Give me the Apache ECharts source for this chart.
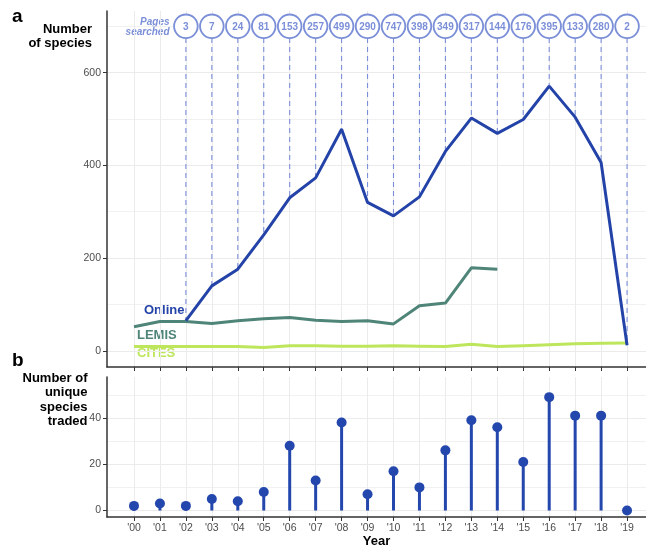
<!DOCTYPE html>
<html>
<head>
<meta charset="utf-8">
<script src="https://cdn.jsdelivr.net/npm/echarts@6/dist/echarts.min.js"></script>
<style>
html,body{margin:0;padding:0;background:#fff;}
#chart{width:646px;height:549px;}
</style>
</head>
<body>
<div id="chart"></div>
<script>
// ---- data ----
const years = [2000,2001,2002,2003,2004,2005,2006,2007,2008,2009,2010,2011,2012,2013,2014,2015,2016,2017,2018,2019];
const tickLabels = ["'00","'01","'02","'03","'04","'05","'06","'07","'08","'09","'10","'11","'12","'13","'14","'15","'16","'17","'18","'19"];
const online = [null,null,65,140,176,250,330,373,478,320,291,332,430,502,469,499,571,504,406,12];
const lemis  = [52,63,63,59,65,69,72,66,63,65,58,97,103,179,176,null,null,null,null,null];
const cites  = [9,9,9,9,9,7,11,11,10,10,11,10,9,14,9,11,13,15,16,17];
const pagesSearched = [null,null,3,7,24,81,153,257,499,290,747,398,349,317,144,176,395,133,280,2];
const uniqueTraded = [2,3,2,5,4,8,28,13,38,7,17,10,26,39,36,21,49,41,41,0];
const topMajorTicks = [0,200,400,600];
const topMinorTicks = [100,300,500,700];
const botMajorTicks = [0,20,40];
const botMinorTicks = [10,30,50];

// ---- styling ----
const FONT = "'Liberation Sans', Arial, sans-serif";
const C_ONLINE = '#2443a8';
const C_LEMIS = '#4f8578';
const C_CITES = '#bde65c';
const C_PAGES = '#7b8fd8';
const C_LOLLI = '#2447ad';
const GRID_C = '#ebebeb';
const AX_C = '#333333';
const CIRCLE_Y = 700;
const xMin = 1998.96, xMax = 2019.73;

function pairs(arr){ const out=[]; arr.forEach((v,i)=>{ if(v!==null) out.push([years[i], v]); }); return out; }
const pagesData = [];
pagesSearched.forEach((p,i)=>{ if(p!==null) pagesData.push([years[i], online[i], p]); });

function xAxisCfg(grid, showLabels){
  return {
    type:'value', gridIndex:grid, min:xMin, max:xMax,
    axisLine:{show:true, onZero:false, lineStyle:{color:AX_C, width:1.5}},
    axisTick:{show:true, length:4, customValues:years, lineStyle:{color:AX_C, width:1}},
    axisLabel:{show:showLabels, customValues:years, margin:6, color:'#4d4d4d', fontSize:10.5, fontFamily:FONT,
      formatter:v=>tickLabels[years.indexOf(Math.round(v))]},
    splitLine:{show:true, lineStyle:{color:GRID_C, width:1}},
    name: showLabels ? 'Year' : '', nameLocation:'middle', nameGap:18,
    nameTextStyle:{fontWeight:'bold', fontSize:13, color:'#000', fontFamily:FONT}
  };
}
function yMajor(grid, min, max, ticks){
  return {
    type:'value', gridIndex:grid, min:min, max:max, position:'left',
    axisLine:{show:true, onZero:false, lineStyle:{color:AX_C, width:1.5}},
    axisTick:{show:true, length:4, customValues:ticks, lineStyle:{color:AX_C, width:1}},
    axisLabel:{show:true, customValues:ticks, margin:6, color:'#4d4d4d', fontSize:10.5, fontFamily:FONT},
    splitLine:{show:true, lineStyle:{color:GRID_C, width:1}}
  };
}
function yMinor(grid, min, max, ticks){
  return {
    type:'value', gridIndex:grid, min:min, max:max, position:'right',
    axisLine:{show:false}, axisLabel:{show:false},
    axisTick:{show:false, customValues:ticks},
    splitLine:{show:true, lineStyle:{color:GRID_C, width:0.7}}
  };
}

const chart = echarts.init(document.getElementById('chart'), null, {renderer:'canvas'});
chart.setOption({
  animation:false,
  backgroundColor:'#fff',
  grid:[
    {left:107, right:0, top:11, height:356},
    {left:107, right:0, top:377, height:145}
  ],
  xAxis:[ xAxisCfg(0,false), xAxisCfg(1,true) ],
  yAxis:[
    yMajor(0,-35,733,topMajorTicks),
    yMinor(0,-35,733,topMinorTicks),
    yMajor(1,-2.8,57.7,botMajorTicks),
    yMinor(1,-2.8,57.7,botMinorTicks)
  ],
  series:[
    {
      type:'custom', xAxisIndex:0, yAxisIndex:0, z:1,
      data:pagesData,
      renderItem:function(params, api){
        const x = api.value(0), v = api.value(1), p = api.value(2);
        const top = api.coord([x, CIRCLE_Y]);
        const bot = api.coord([x, v]);
        const r = 11.8;
        return {type:'group', children:[
          {type:'line', shape:{x1:top[0], y1:top[1]+r, x2:bot[0], y2:bot[1]},
            style:{stroke:C_PAGES, lineWidth:1.1, lineDash:[5,4]}},
          {type:'circle', shape:{cx:top[0], cy:top[1], r:r},
            style:{fill:'#fff', stroke:C_PAGES, lineWidth:1.8}},
          {type:'text', style:{x:top[0], y:top[1]+0.5, text:String(p), align:'center', verticalAlign:'middle',
            fill:C_PAGES, font:'bold 10px '+FONT}}
        ]};
      }
    },
    {type:'line', xAxisIndex:0, yAxisIndex:0, data:pairs(cites), symbol:'none', z:3,
      lineStyle:{color:C_CITES, width:3}},
    {type:'line', xAxisIndex:0, yAxisIndex:0, data:pairs(lemis), symbol:'none', z:4,
      lineStyle:{color:C_LEMIS, width:3}},
    {type:'line', xAxisIndex:0, yAxisIndex:0, data:pairs(online), symbol:'none', z:5,
      lineStyle:{color:C_ONLINE, width:3}},
    {type:'bar', xAxisIndex:1, yAxisIndex:2, data:years.map((y,i)=>[y, uniqueTraded[i]]),
      barWidth:3, itemStyle:{color:C_LOLLI}},
    {type:'scatter', xAxisIndex:1, yAxisIndex:2, data:years.map((y,i)=>[y, uniqueTraded[i]]),
      symbol:'circle', symbolSize:10, itemStyle:{color:C_LOLLI, opacity:1}, z:6}
  ],
  graphic:[
    {type:'text', x:12, y:17, style:{text:'a', font:'bold 19px '+FONT, fill:'#000', align:'left', verticalAlign:'middle'}},
    {type:'text', x:92, y:36.5, style:{text:'Number\nof species', font:'bold 13px '+FONT, lineHeight:14, fill:'#000', align:'right', verticalAlign:'middle'}},
    {type:'text', x:12, y:361, style:{text:'b', font:'bold 19px '+FONT, fill:'#000', align:'left', verticalAlign:'middle'}},
    {type:'text', x:87.5, y:400, style:{text:'Number of\nunique\nspecies\ntraded', font:'bold 13px '+FONT, lineHeight:14.3, fill:'#000', align:'right', verticalAlign:'middle'}},
    {type:'text', x:169.5, y:27, style:{text:'Pages\nsearched', font:'italic bold 10px '+FONT, lineHeight:10.5, fill:C_PAGES, align:'right', verticalAlign:'middle'}},
    {type:'text', x:144, y:310, style:{text:'Online', font:'bold 13px '+FONT, fill:C_ONLINE, align:'left', verticalAlign:'middle'}},
    {type:'text', x:137, y:335, style:{text:'LEMIS', font:'bold 13px '+FONT, fill:C_LEMIS, align:'left', verticalAlign:'middle'}},
    {type:'text', x:137, y:353.5, style:{text:'CITES', font:'bold 13px '+FONT, fill:C_CITES, align:'left', verticalAlign:'middle'}}
  ]
});
</script>
</body>
</html>
